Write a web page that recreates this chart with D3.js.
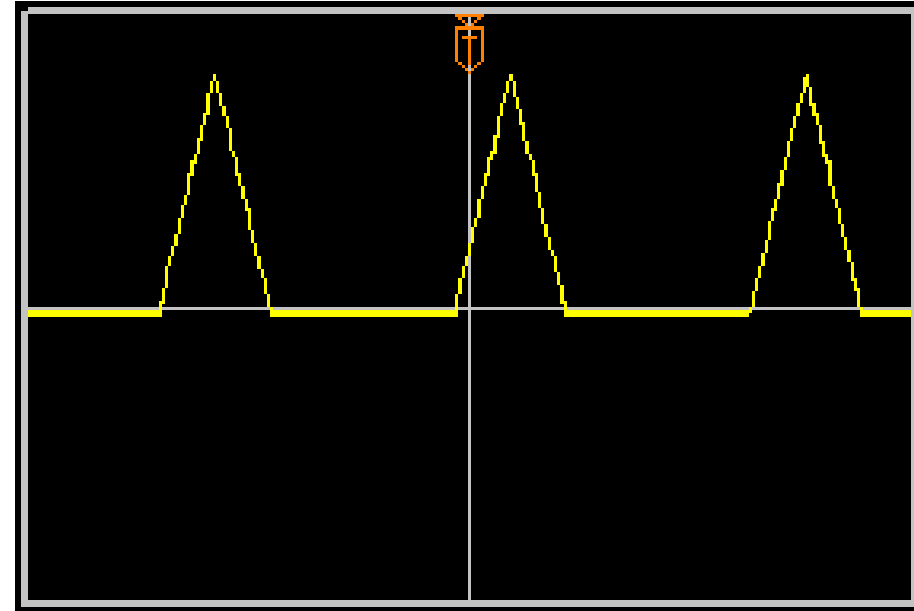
<!DOCTYPE html>
<html>
<head>
<meta charset="utf-8">
<script src="https://cdn.jsdelivr.net/npm/d3@7"></script>
<style>
  html, body { margin: 0; padding: 0; background: #fff; }
  svg { display: block; }
</style>
</head>
<body>
<svg id="scope" width="914" height="611"></svg>
<script>
// one entry per trace step: where it starts, top and bottom of the level band
const traceStart = [
  0, 131, 134, 137, 140, 143, 146, 150, 153, 156, 159, 162, 166, 169, 172, 175, 178, 182, 185,
  188, 191, 194, 198, 201, 204, 207, 210, 213, 217, 220, 223, 226, 229, 233, 236, 239, 242, 245,
  427, 430, 434, 437, 440, 443, 446, 449, 453, 456, 459, 462, 465, 469, 472, 475, 478, 481,
  485, 488, 491, 494, 497, 501, 504, 507, 510, 513, 516, 520, 523, 526, 529, 532, 536, 539,
  721, 724, 727, 730, 733, 737, 740, 743, 746, 749, 752, 756, 759, 762, 765, 768, 772, 775, 778,
  781, 784, 788, 791, 794, 797, 800, 804, 807, 810, 813, 816, 819, 823, 826, 829, 832, 835, 883
]
const traceHigh = [
  -3, 6, 19, 41, 51, 61, 73, 89, 102, 112, 134, 147, 153, 169, 182, 194, 214, 226, 233,
  226, 214, 201, 191, 179, 156, 150, 134, 121, 108, 99, 77, 64, 51, 38, 29, 13, 0, -3,
  13, 29, 41, 51, 64, 80, 89, 108, 121, 134, 150, 156, 172, 191, 204, 214, 226, 233,
  226, 210, 198, 185, 166, 153, 147, 134, 115, 99, 83, 70, 57, 51, 35, 22, 6, -3,
  0, 16, 29, 41, 54, 67, 86, 99, 108, 124, 137, 150, 166, 179, 191, 204, 214, 230, 233,
  220, 204, 194, 182, 166, 153, 147, 121, 108, 99, 83, 70, 57, 45, 29, 19, 0, -3, -3
]
const traceLow = [
  -10, -10, 3, 19, 41, 51, 61, 73, 89, 102, 112, 131, 143, 153, 166, 182, 192, 214, 226,
  214, 201, 191, 179, 156, 150, 131, 121, 108, 96, 77, 64, 51, 38, 29, 13, 0, -10, -10,
  -10, 13, 29, 41, 51, 64, 80, 89, 108, 121, 131, 147, 153, 169, 191, 204, 214, 226,
  210, 198, 182, 166, 153, 147, 131, 115, 99, 83, 70, 57, 51, 35, 22, 3, -10, -10,
  -6, 0, 16, 29, 41, 54, 67, 86, 96, 108, 121, 137, 150, 166, 179, 191, 204, 214, 220,
  201, 191, 182, 163, 150, 143, 121, 108, 99, 83, 70, 57, 45, 26, 16, 0, -10, -10, -10
]
const gridTimes = [441.5]
const gridLevels = [-1.5]
const triggerTime = 441.5

const svg = d3.select('#scope').attr('shape-rendering', 'crispEdges')

const plot = { left: 28, right: 911, top: 14, bottom: 600 }
const frameColor = '#c3c3c3'
const traceColor = '#ffff00'
const markerColor = '#ff8000'

const x = d3.scaleLinear().domain([0, 883]).range([plot.left, plot.right])
const y = d3.scaleLinear().domain([-293, 293]).range([plot.bottom, plot.top])

// screen background
svg.append('rect')
  .attr('x', 15).attr('y', 1)
  .attr('width', 899).attr('height', 610)
  .attr('fill', '#000')

// grid cross through the middle
const gridX = svg.append('g')
  .attr('transform', `translate(0,${plot.bottom})`)
  .call(d3.axisBottom(x).tickValues(gridTimes).tickSize(plot.top - plot.bottom).tickFormat('').offset(0))
const gridY = svg.append('g')
  .attr('transform', `translate(${plot.left},0)`)
  .call(d3.axisLeft(y).tickValues(gridLevels).tickSize(plot.left - plot.right).tickFormat('').offset(0))
gridX.select('.domain').remove()
gridY.select('.domain').remove()
svg.selectAll('.tick line').attr('stroke', frameColor).attr('stroke-width', 3)

// frame
const frame = [
  [plot.left, 7, 914 - plot.left, 7],
  [21, 11, 7, 596],
  [21, plot.bottom, 893, 7],
  [plot.right, 7, 3, 600]
]
svg.append('g').selectAll('rect')
  .data(frame)
  .enter()
  .append('rect')
  .attr('x', d => d[0])
  .attr('y', d => d[1])
  .attr('width', d => d[2])
  .attr('height', d => d[3])
  .attr('fill', frameColor)

// trace
const samples = traceStart.map((t, i) => ({ t, high: traceHigh[i], low: traceLow[i] }))
const area = d3.area()
  .curve(d3.curveStepAfter)
  .x(d => x(d.t))
  .y0(d => y(d.high))
  .y1(d => y(d.low))
svg.append('path')
  .datum(samples)
  .attr('d', area)
  .attr('fill', traceColor)

// trigger marker, pixel blocks of the little syringe shape
const markerCells = [
  [0, 0, 29, 3], [3, 3, 4, 3], [22, 3, 4, 3], [7, 6, 3, 3], [19, 6, 3, 3], [10, 9, 3, 3], [16, 9, 3, 3],
  [0, 12, 29, 4], [0, 12, 3, 36], [26, 12, 3, 36], [7, 22, 15, 3], [13, 25, 3, 26],
  [3, 48, 4, 3], [22, 48, 4, 3], [7, 51, 3, 3], [19, 51, 3, 3], [10, 54, 3, 3], [16, 54, 3, 3], [13, 57, 3, 3]
]
svg.append('g')
  .attr('transform', `translate(${x(triggerTime) - 14.5},${plot.top})`)
  .selectAll('rect')
  .data(markerCells)
  .enter()
  .append('rect')
  .attr('x', d => d[0])
  .attr('y', d => d[1])
  .attr('width', d => d[2])
  .attr('height', d => d[3])
  .attr('fill', markerColor)
</script>
</body>
</html>
